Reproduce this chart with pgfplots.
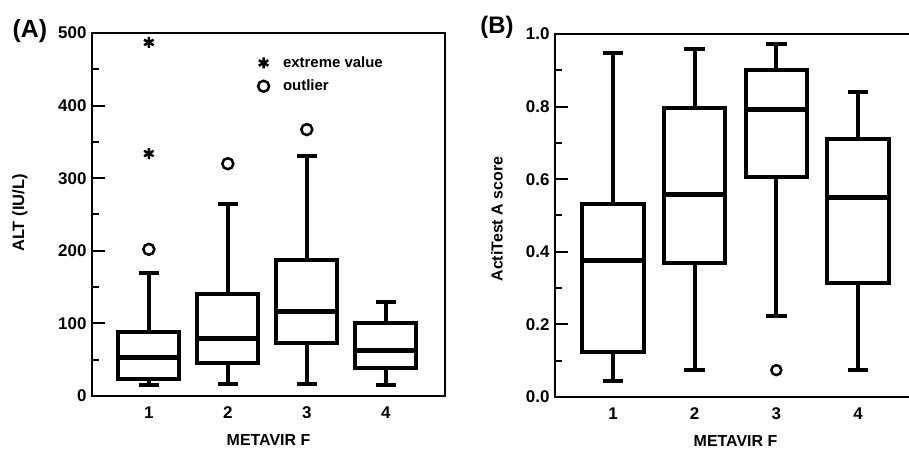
\documentclass[border=0pt]{standalone}
\usepackage{pgfplots}
\pgfplotsset{compat=1.18}
\usepackage{fontspec}
\setmainfont{Liberation Sans}
\begin{document}
\begin{tikzpicture}
\pgfplotsset{
  common/.style={
    scale only axis, clip=false,
    axis line style={line width=2bp},
    tick align=inside, ytick pos=left, xtick pos=bottom,
    major tick length=13bp, minor tick length=7bp,
    every tick/.style={black, line width=2bp},
    major x tick style={draw=none},
    xtick={1,2,3,4}, minor y tick num=1,
    unbounded coords=jump,
    /pgf/number format/assume math mode=true,
    ticklabel style={font=\bfseries\fontsize{17}{19}\selectfont},
    xticklabel style={yshift=-7bp},
    yticklabel style={xshift=-2bp},
    every axis x label/.style={at={(axis description cs:0.5,-0.12)}, anchor=center,
      font=\bfseries\fontsize{16}{18}\selectfont},
    xlabel={METAVIR F},
  },
  bx/.style={black, line width=4bp, line join=miter, forget plot, mark=none},
  md/.style={black, line width=5bp, forget plot, mark=none},
}
% Panel A
\begin{axis}[common, at={(92bp,54bp)}, anchor=south west,
  width=353bp, height=363bp, xmin=0.28, xmax=4.75, ymin=0, ymax=500,
  ytick={0,100,200,300,400,500},
  every axis y label/.style={at={(axis description cs:-0.204,0.504)}, rotate=90, anchor=center,
    font=\bfseries\fontsize{16.5}{18}\selectfont},
  ylabel={ALT (IU/L)},
  legend style={draw=none, fill=none, at={(axis description cs:0.4615,0.946)}, anchor=north west,
    font=\bfseries\fontsize{15}{17}\selectfont, row sep=7bp,
    /tikz/every odd column/.append style={column sep=12bp}},
  legend cell align=left]
% whiskers and caps
\addplot[bx] coordinates {
 (1,88) (1,169) (1,nan) (0.875,169) (1.125,169) (1,nan) (1,24) (1,15) (1,nan) (0.875,15) (1.125,15) (1,nan)
 (2,141) (2,264) (2,nan) (1.875,264) (2.125,264) (2,nan) (2,45.5) (2,17) (2,nan) (1.875,17) (2.125,17) (2,nan)
 (3,187) (3,330) (3,nan) (2.875,330) (3.125,330) (3,nan) (3,73) (3,16) (3,nan) (2.875,16) (3.125,16) (3,nan)
 (4,101) (4,129) (4,nan) (3.875,129) (4.125,129) (4,nan) (4,38) (4,15) (4,nan) (3.875,15) (4.125,15)};
% boxes (lower quartile, upper quartile)
\addplot[bx] coordinates {(0.615,24) (1.385,24) (1.385,88) (0.615,88)} -- cycle;
\addplot[bx] coordinates {(1.615,45.5) (2.385,45.5) (2.385,141) (1.615,141)} -- cycle;
\addplot[bx] coordinates {(2.615,73) (3.385,73) (3.385,187) (2.615,187)} -- cycle;
\addplot[bx] coordinates {(3.615,38) (4.385,38) (4.385,101) (3.615,101)} -- cycle;
% medians
\addplot[md] coordinates {(0.615,53) (1.385,53) (1,nan) (1.615,79) (2.385,79) (2,nan)
 (2.615,116) (3.385,116) (3,nan) (3.615,63) (4.385,63)};
\addplot[black, only marks, mark=asterisk, mark size=5.5bp, line width=2.5bp] coordinates {(1,487) (1,334)};
\addlegendentry{extreme value}
\addplot[black, only marks, mark=o, mark size=5.5bp, line width=2.5bp] coordinates {(1,202) (2,320) (3,367)};
\addlegendentry{outlier}
\node[font=\bfseries\fontsize{25}{27}\selectfont] at (axis description cs:-0.176,1.006) {(A)};
\end{axis}
% Panel B
\begin{axis}[common, at={(555bp,53bp)}, anchor=south west,
  width=361bp, height=363bp, xmin=0.29, xmax=4.71, ymin=0, ymax=1,
  ytick={0,0.2,0.4,0.6,0.8,1.0},
  yticklabel style={/pgf/number format/.cd, fixed, fixed zerofill, precision=1},
  every axis y label/.style={at={(axis description cs:-0.161,0.49)}, rotate=90, anchor=center,
    font=\bfseries\fontsize{16}{18}\selectfont},
  ylabel={ActiTest A score}]
\addplot[bx] coordinates {
 (1,0.532) (1,0.949) (1,nan) (0.875,0.949) (1.125,0.949) (1,nan) (1,0.124) (1,0.043) (1,nan) (0.875,0.043) (1.125,0.043) (1,nan)
 (2,0.796) (2,0.96) (2,nan) (1.875,0.96) (2.125,0.96) (2,nan) (2,0.368) (2,0.074) (2,nan) (1.875,0.074) (2.125,0.074) (2,nan)
 (3,0.90) (3,0.972) (3,nan) (2.875,0.972) (3.125,0.972) (3,nan) (3,0.607) (3,0.223) (3,nan) (2.875,0.223) (3.125,0.223) (3,nan)
 (4,0.711) (4,0.84) (4,nan) (3.875,0.84) (4.125,0.84) (4,nan) (4,0.313) (4,0.074) (4,nan) (3.875,0.074) (4.125,0.074)};
\addplot[bx] coordinates {(0.625,0.124) (1.375,0.124) (1.375,0.532) (0.625,0.532)} -- cycle;
\addplot[bx] coordinates {(1.625,0.368) (2.375,0.368) (2.375,0.796) (1.625,0.796)} -- cycle;
\addplot[bx] coordinates {(2.625,0.607) (3.375,0.607) (3.375,0.90) (2.625,0.90)} -- cycle;
\addplot[bx] coordinates {(3.625,0.313) (4.375,0.313) (4.375,0.711) (3.625,0.711)} -- cycle;
\addplot[md] coordinates {(0.625,0.377) (1.375,0.377) (1,nan) (1.625,0.559) (2.375,0.559) (2,nan)
 (2.625,0.791) (3.375,0.791) (3,nan) (3.625,0.549) (4.375,0.549)};
\addplot[black, only marks, mark=o, mark size=5bp, line width=2.5bp, forget plot] coordinates {(3,0.074)};
\node[font=\bfseries\fontsize{24}{26}\selectfont] at (axis description cs:-0.161,1.019) {(B)};
\end{axis}
\pgfresetboundingbox
\useasboundingbox (0,0) rectangle (909bp,450bp);
\end{tikzpicture}
\end{document}
